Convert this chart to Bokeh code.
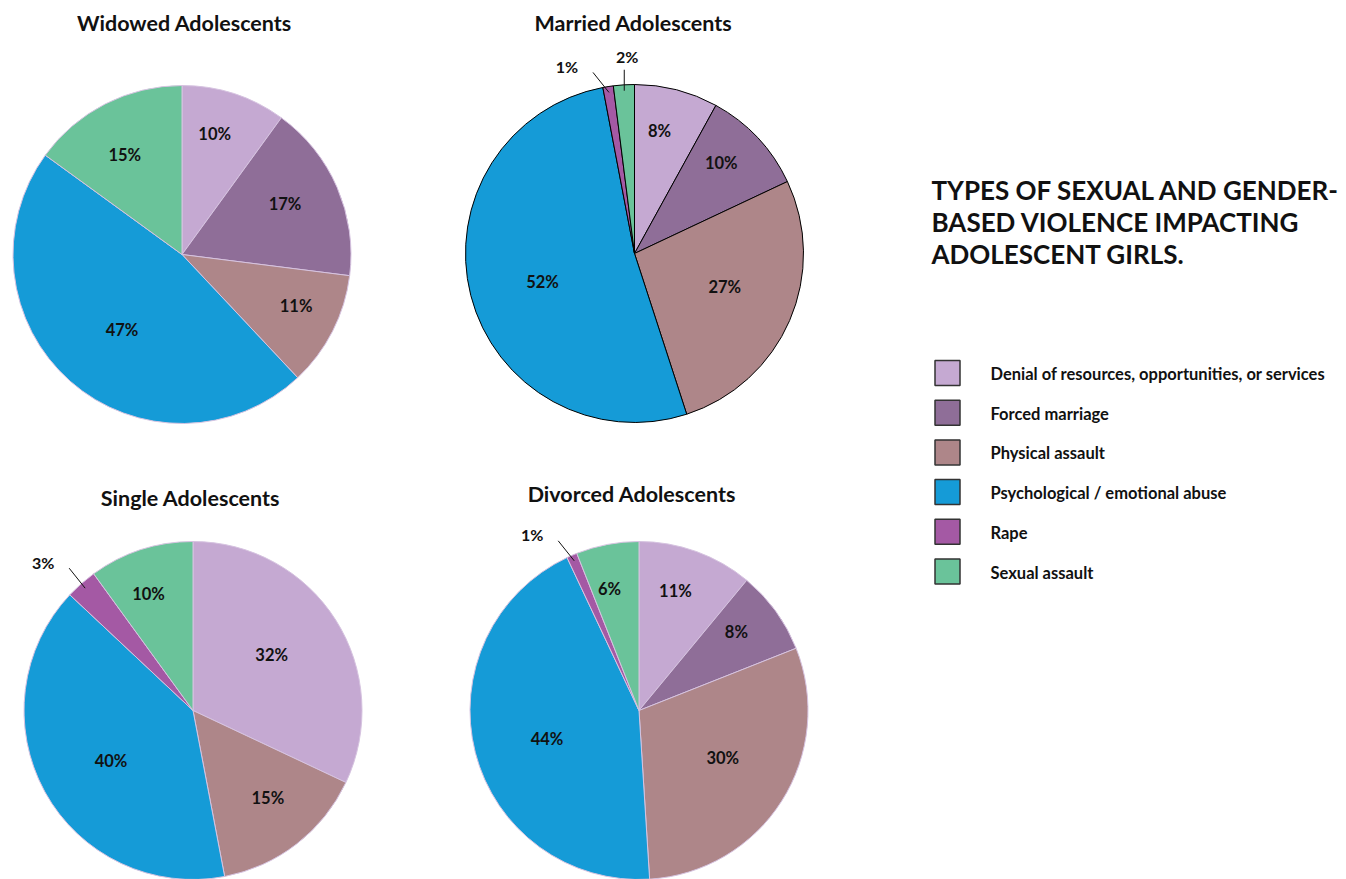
import numpy as np
from bokeh.plotting import figure
from bokeh.models import ColumnDataSource, Range1d
from bokeh.core.properties import value
from bokeh.embed import file_html
from bokeh.resources import INLINE

# ---------------- data ----------------
categories = ["Denial of resources, opportunities, or services", "Forced marriage",
              "Physical assault", "Psychological / emotional abuse", "Rape", "Sexual assault"]
pie_titles = ["Widowed Adolescents", "Married Adolescents", "Single Adolescents", "Divorced  Adolescents"]
widowed = [10, 17, 11, 47, 0, 15]
married = [8, 10, 27, 52, 1, 2]
single = [32, 0, 15, 40, 3, 10]
divorced = [11, 8, 30, 44, 1, 6]
heading_lines = ["TYPES OF SEXUAL AND GENDER-", "BASED VIOLENCE IMPACTING", "ADOLESCENT GIRLS."]

# ---------------- styles / layout ----------------
colors = ["#C5A9D2", "#8F6E98", "#AE8689", "#159BD7", "#A459A4", "#6AC39A"]
W, H = 1346, 879
R = 169
FONT = value("Lato")
centers = [(181.5, 254), (634, 253), (192.5, 710), (638.5, 710)]
title_pos = [(184, 22), (633, 22), (190, 497), (634, 493)]
edge_colors = ["#D6C3E0", "#000000", "#D6C3E0", "#D6C3E0"]
# callout style for small slices: (pie index, category index) -> kind
callouts = {(1, 4): "diag", (1, 5): "up", (2, 4): "diag", (3, 4): "diag"}

p = figure(width=W, height=H, x_range=Range1d(0, W), y_range=Range1d(0, H),
           x_axis_location=None, y_axis_location=None, toolbar_location=None,
           output_backend="svg", min_border=0, background_fill_color="white",
           border_fill_color="white", outline_line_color=None)
p.grid.visible = False

def Y(py):
    return H - py

for k, vals in enumerate([widowed, married, single, divorced]):
    cx, cy = centers[k]
    cy = Y(cy)
    total = float(sum(vals))
    cum = 0.0
    xs, ys, starts, ends, fills = [], [], [], [], []
    lx, ly, lt = [], [], []
    ox, oy, ot = [], [], []
    sx0, sy0, sx1, sy1 = [], [], [], []
    for i, v in enumerate(vals):
        if v == 0:
            continue
        a0 = np.pi / 2 - 2 * np.pi * cum / total
        cum += v
        a1 = np.pi / 2 - 2 * np.pi * cum / total
        xs.append(cx); ys.append(cy); starts.append(a0); ends.append(a1); fills.append(colors[i])
        mid = (a0 + a1) / 2
        if (k, i) in callouts:
            ax = cx + 0.965 * R * np.cos(mid)
            ay = cy + 0.965 * R * np.sin(mid)
            if callouts[(k, i)] == "diag":
                bx, by = ax - 16, ay + 20
                tx, ty = bx - 26, by + 6
            else:
                bx, by = ax, ay + 21
                tx, ty = bx + 3, by + 13
            sx0.append(ax); sy0.append(ay); sx1.append(bx); sy1.append(by)
            ox.append(tx); oy.append(ty); ot.append(f"{v}%")
        else:
            frac = 0.57 if v >= 25 else (0.74 if v <= 11 else 0.68)
            lx.append(cx + frac * R * np.cos(mid + 0.05))
            ly.append(cy + frac * R * np.sin(mid + 0.05))
            lt.append(f"{v}%")
    src = ColumnDataSource(dict(x=xs, y=ys, s=starts, e=ends, c=fills))
    p.wedge(x="x", y="y", radius=R, start_angle="s", end_angle="e", direction="clock",
            fill_color="c", line_color=edge_colors[k], line_width=1, source=src)
    p.text(x=lx, y=ly, text=lt, text_font=FONT, text_font_style="bold",
           text_font_size="16.5px", text_align="center", text_baseline="middle", text_color="#111111")
    if ot:
        p.segment(x0=sx0, y0=sy0, x1=sx1, y1=sy1, line_color="#111111", line_width=1)
        p.text(x=ox, y=oy, text=ot, text_font=FONT, text_font_style="bold",
               text_font_size="16px", text_align="center", text_baseline="middle", text_color="#111111")
    tx, ty = title_pos[k]
    p.text(x=[tx], y=[Y(ty)], text=[pie_titles[k]], text_font=FONT, text_font_style="bold",
           text_font_size="21.5px", text_align="center", text_baseline="middle", text_color="#111111")

# heading
p.text(x=[931] * 3, y=[Y(189), Y(221), Y(253)], text=heading_lines, text_font=FONT,
       text_font_style="bold", text_font_size="26px", text_align="left",
       text_baseline="middle", text_color="#111111")

# legend
leg_y = [Y(372.5 + 39.7 * i) for i in range(len(categories))]
p.rect(x=[947] * len(categories), y=leg_y, width=25, height=25, fill_color=colors,
       line_color="#333333", line_width=1.5)
p.text(x=[990] * len(categories), y=[v - 1 for v in leg_y], text=categories, text_font=FONT,
       text_font_style="bold", text_font_size="16.5px", text_align="left",
       text_baseline="middle", text_color="#111111")

open("out.html", "w").write(file_html(p, INLINE))
